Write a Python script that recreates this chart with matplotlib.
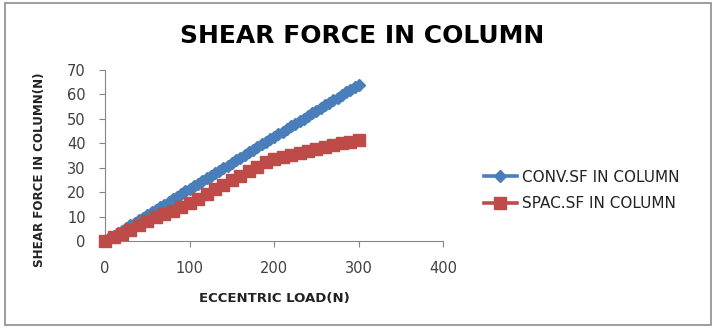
import matplotlib
matplotlib.use('Agg')
import matplotlib.pyplot as plt
from matplotlib.patches import Rectangle

# conventional column: eccentric load (N) and shear force (N)
conv_load = [0, 5, 10, 15, 20, 25, 30, 35, 40, 45, 50, 55, 60, 65, 70, 75, 80, 85,
             90, 95, 100, 105, 110, 115, 120, 125, 130, 135, 140, 145, 150, 155,
             160, 165, 170, 175, 180, 185, 190, 195, 200, 205, 210, 215, 220, 225,
             230, 235, 240, 245, 250, 255, 260, 265, 270, 275, 280, 285, 290, 295, 300]
conv_sf = [0, 1.1, 2.1, 3.2, 4.3, 5.3, 6.4, 7.5, 8.5, 9.6, 10.7, 11.7, 12.8, 13.9,
           14.9, 16.0, 17.1, 18.1, 19.2, 20.3, 21.3, 22.4, 23.5, 24.5, 25.6, 26.7,
           27.7, 28.8, 29.9, 30.9, 32.0, 33.1, 34.1, 35.2, 36.3, 37.3, 38.4, 39.5,
           40.5, 41.6, 42.7, 43.7, 44.8, 45.9, 46.9, 48.0, 49.1, 50.1, 51.2, 52.3,
           53.3, 54.4, 55.5, 56.5, 57.6, 58.7, 59.7, 60.8, 61.9, 62.9, 64.0]

# space frame column
spac_load = [0, 10, 20, 30, 40, 50, 60, 70, 80, 90, 100, 110, 120, 130, 140, 150,
             160, 170, 180, 190, 200, 210, 220, 230, 240, 250, 260, 270, 280, 290, 300]
spac_sf = [0, 1.5, 3.0, 4.6, 6.5, 8.3, 9.8, 11.0, 12.4, 13.8, 15.4, 17.3,
           19.2, 21.2, 23.1, 25.0, 26.8, 28.6, 30.4, 32.2, 33.4, 34.3, 35.2,
           36.1, 37.0, 37.8, 38.6, 39.4, 40.0, 40.6, 41.2]

xticks = [0, 100, 200, 300, 400]
yticks = [0, 10, 20, 30, 40, 50, 60, 70]

plt.rcParams['font.family'] = ['DejaVu Sans']

fig = plt.figure(figsize=(7.15, 3.28), dpi=100)
fig.patches.append(Rectangle((0.007, 0.008), 0.988, 0.982, transform=fig.transFigure,
                             fill=False, edgecolor='#8c8c8c', linewidth=1.2))

ax = fig.add_axes([0.147, 0.265, 0.473, 0.522])

ax.plot(conv_load, conv_sf, color='#4a7ebb', linewidth=2.6, marker='D', markersize=6.5,
        label='CONV.SF IN COLUMN', zorder=2, clip_on=False)
ax.plot(spac_load, spac_sf, color='#be4b48', linewidth=2.6, marker='s', markersize=8,
        label='SPAC.SF IN COLUMN', zorder=3, clip_on=False)

ax.set_xlim(0, 400)
ax.set_ylim(0, 70)
ax.set_xticks(xticks)
ax.set_yticks(yticks)
ax.tick_params(colors='#404040', labelsize=10.5, length=4, width=0.8)
ax.tick_params(axis='x', pad=10)
ax.tick_params(axis='y', pad=10)
for s in ['top', 'right']:
    ax.spines[s].set_visible(False)
for s in ['left', 'bottom']:
    ax.spines[s].set_color('#868686')
ax.tick_params(color='#868686')

ax.set_xlabel('ECCENTRIC LOAD(N)', fontsize=9.5, fontweight='bold', color='#222222', labelpad=12)
ax.set_ylabel('SHEAR FORCE IN COLUMN(N)', fontsize=8.6, fontweight='bold', color='#222222')
ax.yaxis.set_label_coords(-0.175, 0.415)

fig.text(0.507, 0.89, 'SHEAR FORCE IN COLUMN', ha='center', va='center',
         fontsize=18, fontweight='bold', color='black')

fig.legend(loc='center left', bbox_to_anchor=(0.657, 0.42), frameon=False,
           fontsize=11, handlelength=2.2, labelspacing=0.75, handletextpad=0.3,
           labelcolor='#222222')

fig.savefig('out.png', dpi=100)
